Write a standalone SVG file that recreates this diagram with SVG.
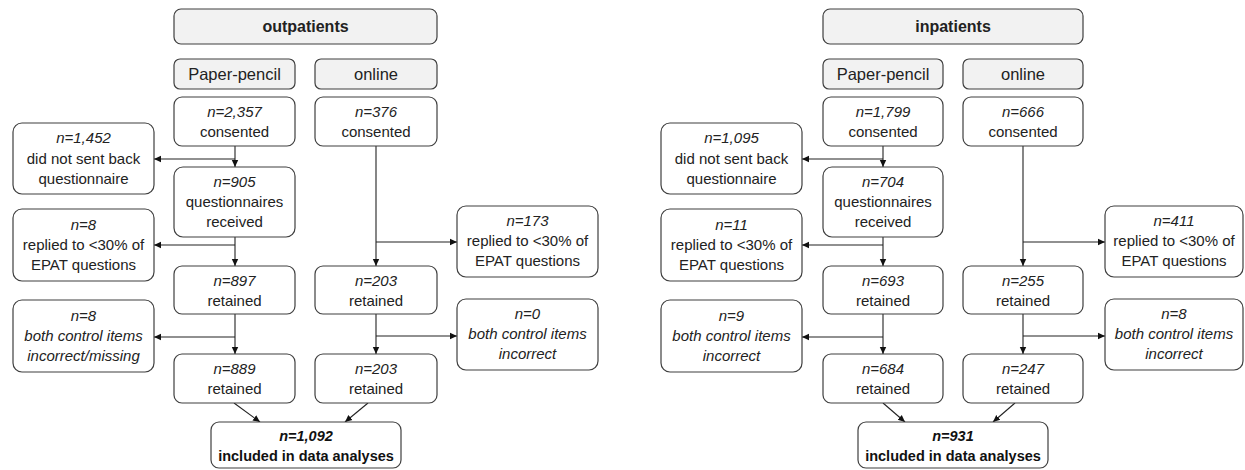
<svg xmlns="http://www.w3.org/2000/svg" width="1245" height="470" viewBox="0 0 1245 470">
<style>
.b{fill:#fff;stroke:#3f3f3f;stroke-width:1.2}
.g{fill:#f2f2f2;stroke:#3f3f3f;stroke-width:1.2}
text{font-family:"Liberation Sans",Arial,sans-serif;font-size:15px;fill:#222;text-anchor:middle}
.i{font-style:italic}
.h{font-size:16.5px}
.hb{font-size:16px;font-weight:bold}
.bb{font-weight:bold;font-size:14.5px;fill:#111}
.c line{stroke:#222;stroke-width:1.1;fill:none}
</style>
<defs>
<marker id="a" markerUnits="userSpaceOnUse" markerWidth="8" markerHeight="8" refX="7" refY="4" orient="auto"><path d="M0,0.8 L7,4 L0,7.2 Z" fill="#111"/></marker>
</defs>
<rect width="1245" height="470" fill="#fff"/>
<g class="c" id="connectors">
<line x1="235" y1="146" x2="235" y2="167" marker-end="url(#a)"/>
<line x1="235" y1="159" x2="154" y2="159" marker-end="url(#a)"/>
<line x1="235" y1="237" x2="235" y2="266" marker-end="url(#a)"/>
<line x1="235" y1="245" x2="154" y2="245" marker-end="url(#a)"/>
<line x1="235" y1="314" x2="235" y2="354" marker-end="url(#a)"/>
<line x1="235" y1="337" x2="154" y2="337" marker-end="url(#a)"/>
<line x1="376" y1="146" x2="376" y2="266" marker-end="url(#a)"/>
<line x1="376" y1="242" x2="457" y2="242" marker-end="url(#a)"/>
<line x1="376" y1="314" x2="376" y2="354" marker-end="url(#a)"/>
<line x1="376" y1="336" x2="457" y2="336" marker-end="url(#a)"/>
<line x1="234" y1="403" x2="260" y2="422" marker-end="url(#a)"/>
<line x1="368" y1="403" x2="345" y2="422" marker-end="url(#a)"/>
<line x1="883" y1="146" x2="883" y2="167" marker-end="url(#a)"/>
<line x1="883" y1="159" x2="802" y2="159" marker-end="url(#a)"/>
<line x1="883" y1="237" x2="883" y2="266" marker-end="url(#a)"/>
<line x1="883" y1="245" x2="802" y2="245" marker-end="url(#a)"/>
<line x1="883" y1="314" x2="883" y2="354" marker-end="url(#a)"/>
<line x1="883" y1="337" x2="802" y2="337" marker-end="url(#a)"/>
<line x1="1023" y1="146" x2="1023" y2="266" marker-end="url(#a)"/>
<line x1="1023" y1="242" x2="1105" y2="242" marker-end="url(#a)"/>
<line x1="1023" y1="314" x2="1023" y2="354" marker-end="url(#a)"/>
<line x1="1023" y1="336" x2="1105" y2="336" marker-end="url(#a)"/>
<line x1="883" y1="403" x2="905" y2="422" marker-end="url(#a)"/>
<line x1="1015" y1="403" x2="993" y2="422" marker-end="url(#a)"/>
</g>
<g id="out-header"><rect class="g" x="174" y="9" width="263" height="35" rx="7"/><text class="hb" x="305.5" y="32">outpatients</text></g>
<g id="out-paper"><rect class="g" x="174" y="59" width="121" height="30" rx="6"/><text class="h" x="234.5" y="80">Paper-pencil</text></g>
<g id="out-online"><rect class="g" x="315" y="59" width="122" height="30" rx="6"/><text class="h" x="376" y="80">online</text></g>
<g id="out-p-consented"><rect class="b" x="174" y="97" width="121" height="49" rx="8"/><text class="i" x="234.5" y="117">n=2,357</text><text x="234.5" y="137">consented</text></g>
<g id="out-o-consented"><rect class="b" x="315" y="97" width="122" height="49" rx="8"/><text class="i" x="376" y="117">n=376</text><text x="376" y="137">consented</text></g>
<g id="out-notsent"><rect class="b" x="13" y="123" width="141" height="71" rx="9"/><text class="i" x="83.5" y="143">n=1,452</text><text x="83.5" y="163.5">did not sent back</text><text x="83.5" y="183.5">questionnaire</text></g>
<g id="out-received"><rect class="b" x="174" y="167" width="121" height="70" rx="9"/><text class="i" x="234.5" y="187">n=905</text><text x="234.5" y="207">questionnaires</text><text x="234.5" y="227">received</text></g>
<g id="out-p-replied"><rect class="b" x="13" y="209" width="141" height="72" rx="9"/><text class="i" x="83.5" y="230">n=8</text><text x="83.5" y="250">replied to &lt;30% of</text><text x="83.5" y="270">EPAT questions</text></g>
<g id="out-o-replied"><rect class="b" x="457" y="206" width="141" height="71" rx="9"/><text class="i" x="527.5" y="226">n=173</text><text x="527.5" y="246">replied to &lt;30% of</text><text x="527.5" y="266">EPAT questions</text></g>
<g id="out-p-ret1"><rect class="b" x="174" y="266" width="121" height="48" rx="8"/><text class="i" x="234.5" y="286">n=897</text><text x="234.5" y="306">retained</text></g>
<g id="out-o-ret1"><rect class="b" x="315" y="266" width="122" height="48" rx="8"/><text class="i" x="376" y="286">n=203</text><text x="376" y="306">retained</text></g>
<g id="out-p-control"><rect class="b" x="13" y="300" width="141" height="72" rx="9"/><text class="i" x="83.5" y="321">n=8</text><text class="i" x="83.5" y="341">both control items</text><text class="i" x="83.5" y="361">incorrect/missing</text></g>
<g id="out-o-control"><rect class="b" x="457" y="299" width="141" height="71" rx="9"/><text class="i" x="527.5" y="319">n=0</text><text class="i" x="527.5" y="339">both control items</text><text class="i" x="527.5" y="359">incorrect</text></g>
<g id="out-p-ret2"><rect class="b" x="174" y="354" width="121" height="49" rx="8"/><text class="i" x="234.5" y="374">n=889</text><text x="234.5" y="394">retained</text></g>
<g id="out-o-ret2"><rect class="b" x="315" y="354" width="122" height="49" rx="8"/><text class="i" x="376" y="374">n=203</text><text x="376" y="394">retained</text></g>
<g id="out-final"><rect class="b" x="211" y="422" width="190" height="46" rx="8"/><text class="bb i" x="306" y="441">n=1,092</text><text class="bb" x="306" y="461">included in data analyses</text></g>
<g id="in-header"><rect class="g" x="823" y="9" width="260" height="35" rx="7"/><text class="hb" x="953" y="32">inpatients</text></g>
<g id="in-paper"><rect class="g" x="823" y="59" width="120" height="30" rx="6"/><text class="h" x="883" y="80">Paper-pencil</text></g>
<g id="in-online"><rect class="g" x="963" y="59" width="120" height="30" rx="6"/><text class="h" x="1023" y="80">online</text></g>
<g id="in-p-consented"><rect class="b" x="823" y="97" width="120" height="49" rx="8"/><text class="i" x="883" y="117">n=1,799</text><text x="883" y="137">consented</text></g>
<g id="in-o-consented"><rect class="b" x="963" y="97" width="120" height="49" rx="8"/><text class="i" x="1023" y="117">n=666</text><text x="1023" y="137">consented</text></g>
<g id="in-notsent"><rect class="b" x="661" y="123" width="141" height="71" rx="9"/><text class="i" x="731.5" y="143">n=1,095</text><text x="731.5" y="163.5">did not sent back</text><text x="731.5" y="183.5">questionnaire</text></g>
<g id="in-received"><rect class="b" x="823" y="167" width="120" height="70" rx="9"/><text class="i" x="883" y="187">n=704</text><text x="883" y="207">questionnaires</text><text x="883" y="227">received</text></g>
<g id="in-p-replied"><rect class="b" x="661" y="209" width="141" height="72" rx="9"/><text class="i" x="731.5" y="230">n=11</text><text x="731.5" y="250">replied to &lt;30% of</text><text x="731.5" y="270">EPAT questions</text></g>
<g id="in-o-replied"><rect class="b" x="1105" y="206" width="138" height="71" rx="9"/><text class="i" x="1174" y="226">n=411</text><text x="1174" y="246">replied to &lt;30% of</text><text x="1174" y="266">EPAT questions</text></g>
<g id="in-p-ret1"><rect class="b" x="823" y="266" width="120" height="48" rx="8"/><text class="i" x="883" y="286">n=693</text><text x="883" y="306">retained</text></g>
<g id="in-o-ret1"><rect class="b" x="963" y="266" width="120" height="48" rx="8"/><text class="i" x="1023" y="286">n=255</text><text x="1023" y="306">retained</text></g>
<g id="in-p-control"><rect class="b" x="661" y="300" width="141" height="72" rx="9"/><text class="i" x="731.5" y="321">n=9</text><text class="i" x="731.5" y="341">both control items</text><text class="i" x="731.5" y="361">incorrect</text></g>
<g id="in-o-control"><rect class="b" x="1105" y="299" width="138" height="71" rx="9"/><text class="i" x="1174" y="319">n=8</text><text class="i" x="1174" y="339">both control items</text><text class="i" x="1174" y="359">incorrect</text></g>
<g id="in-p-ret2"><rect class="b" x="823" y="354" width="120" height="49" rx="8"/><text class="i" x="883" y="374">n=684</text><text x="883" y="394">retained</text></g>
<g id="in-o-ret2"><rect class="b" x="963" y="354" width="120" height="49" rx="8"/><text class="i" x="1023" y="374">n=247</text><text x="1023" y="394">retained</text></g>
<g id="in-final"><rect class="b" x="858" y="422" width="190" height="46" rx="8"/><text class="bb i" x="953" y="441">n=931</text><text class="bb" x="953" y="461">included in data analyses</text></g>
</svg>
